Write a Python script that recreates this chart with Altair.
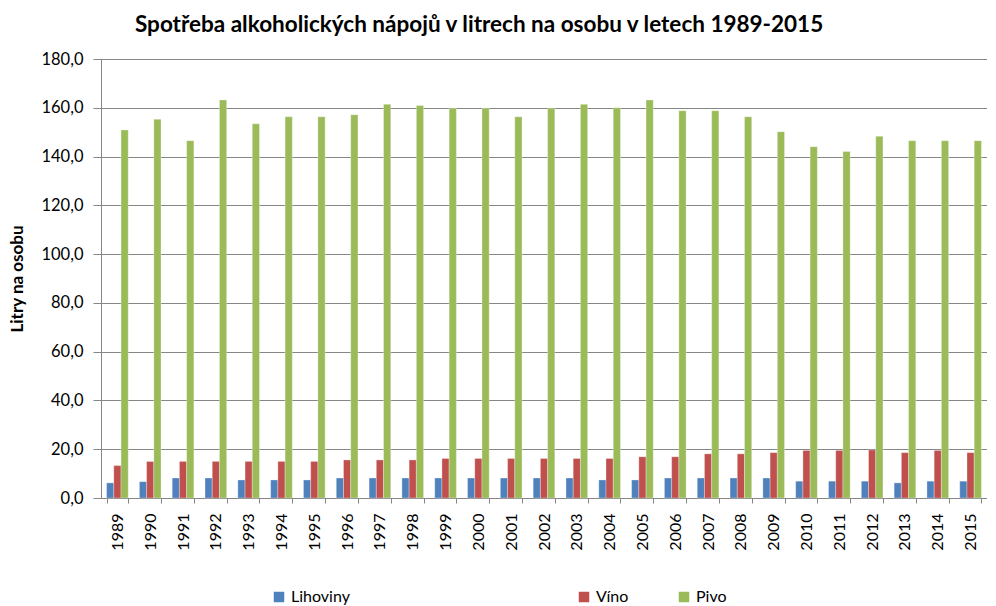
import altair as alt
import pandas as pd

years = [str(y) for y in range(1989, 2016)]
lihoviny = [6.2, 6.7, 8.2, 8.2, 7.4, 7.4, 7.4, 8.2, 8.2, 8.2, 8.2, 8.2, 8.2, 8.2,
            8.2, 7.4, 7.4, 8.2, 8.2, 8.2, 8.2, 6.9, 6.9, 6.9, 6.2, 6.9, 6.9]
vino = [13.3, 15.0, 15.0, 15.0, 15.0, 15.0, 15.0, 15.6, 15.6, 15.6, 16.2, 16.2, 16.2, 16.2,
        16.2, 16.2, 16.9, 16.9, 18.1, 18.1, 18.6, 19.5, 19.5, 19.7, 18.6, 19.5, 18.6]
pivo = [150.9, 155.3, 146.5, 163.2, 153.4, 156.3, 156.3, 157.1, 161.4, 160.9, 159.8, 159.8,
        156.3, 159.8, 161.4, 160.0, 163.2, 158.8, 158.8, 156.3, 150.2, 144.0, 142.1, 148.3,
        146.5, 146.5, 146.5]
series = ["Lihoviny", "Víno", "Pivo"]
colors = ["#4F81BD", "#C0504D", "#9BBB59"]

rows = []
for i, y in enumerate(years):
    for s, vals in zip(series, [lihoviny, vino, pivo]):
        rows.append({"rok": y, "druh": s, "hodnota": vals[i]})
df = pd.DataFrame(rows)

FONT = "Lato"

x_enc = alt.X("rok:N", sort=years,
              scale=alt.Scale(paddingInner=0.34, paddingOuter=0.17),
              axis=alt.Axis(title=None, labelAngle=270, labelFont=FONT, labelFontSize=16,
                            labelColor="#000000", labelPadding=10, tickBand="extent",
                            tickColor="#868686", tickSize=5, domainColor="#868686",
                            labelAlign="right", labelBaseline="middle"))
xoff_enc = alt.XOffset("druh:N", sort=series,
                       scale=alt.Scale(domain=series, paddingInner=0, paddingOuter=0))
y_enc = alt.Y("hodnota:Q", scale=alt.Scale(domain=[0, 180], nice=False),
              axis=alt.Axis(title="Litry na osobu", values=list(range(0, 181, 20)),
                            labelExpr="replace(format(datum.value, '.1f'), '.', ',')",
                            labelFont=FONT, labelFontSize=16.5, labelColor="#000000",
                            titleFont=FONT, titleFontSize=17, titleFontWeight="bold",
                            titleColor="#000000", titlePadding=14,
                            tickColor="#868686", tickSize=8, domainColor="#868686",
                            gridColor="#868686", gridWidth=1.2, labelPadding=10))

legend_common = dict(title=None, orient="none", direction="horizontal", legendY=530,
                     labelLimit=500, labelFont=FONT, labelFontSize=16, labelColor="#000000",
                     symbolType="square", symbolSize=110, symbolStrokeWidth=0,
                     columnPadding=47, labelOffset=4)

base = alt.Chart(df).mark_bar(stroke="#ffffff", strokeOpacity=0.5, strokeWidth=0.6)

spirits = base.transform_filter(alt.datum.druh == series[0]).encode(
    x=x_enc, xOffset=xoff_enc, y=y_enc,
    color=alt.Color("druh:N", scale=alt.Scale(domain=series[:1], range=colors[:1]),
                    legend=alt.Legend(legendX=170, **legend_common)),
)
others = base.transform_filter(alt.datum.druh != series[0]).encode(
    x=x_enc, xOffset=xoff_enc, y=y_enc,
    fill=alt.Fill("druh:N", sort=series[1:], scale=alt.Scale(domain=series[1:], range=colors[1:]),
                  legend=alt.Legend(legendX=475, **legend_common)),
)

chart = alt.layer(spirits, others).properties(
    width=886,
    height=439,
    title=alt.TitleParams("Spotřeba alkoholických nápojů v litrech na osobu v letech 1989-2015",
                          font=FONT, fontSize=22.5, fontWeight="bold", color="#000000",
                          anchor="start", dx=126, offset=15),
).configure_view(stroke=None).configure(padding={"left": 0, "top": 5, "right": 0, "bottom": 0})

chart.save("out.html", embed_options={"renderer": "svg", "actions": False})
